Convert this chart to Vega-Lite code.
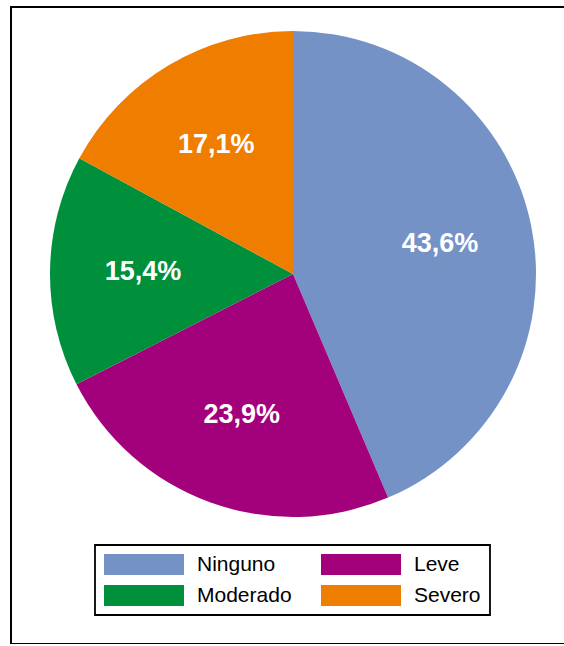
{
  "$schema": "https://vega.github.io/schema/vega-lite/v6.json",
  "width": 564,
  "height": 637,
  "autosize": {"type": "none"},
  "padding": {"left": 11, "top": 7, "right": 0, "bottom": 0},
  "background": "white",
  "view": {"stroke": "black", "strokeWidth": 2},
  "data": {"values": [
    {"grado": "Ninguno", "share": 0.436, "i": 1},
    {"grado": "Leve", "share": 0.239, "i": 2},
    {"grado": "Moderado", "share": 0.154, "i": 3},
    {"grado": "Severo", "share": 0.171, "i": 4}
  ]},
  "encoding": {
    "theta": {"field": "share", "type": "quantitative", "stack": true},
    "order": {"field": "i", "type": "quantitative"}
  },
  "layer": [
    {
      "mark": {"type": "arc", "radius": 243, "yOffset": -51.5},
      "encoding": {
        "color": {
          "field": "grado",
          "type": "nominal",
          "sort": ["Ninguno", "Leve", "Moderado", "Severo"],
          "scale": {"domain": ["Ninguno", "Leve", "Moderado", "Severo"], "range": ["#7492C6", "#A3007C", "#008F3B", "#EF7D00"]},
          "legend": {
            "title": null,
            "orient": "none",
            "legendX": 84,
            "legendY": 538,
            "direction": "horizontal",
            "columns": 2,
            "strokeColor": "black",
            "fillColor": "white",
            "padding": 9,
            "symbolType": "M-1,-1H6.62V1H-1Z",
            "symbolSize": 441,
            "symbolStrokeWidth": 0,
            "symbolOpacity": 1,
            "labelFont": "Liberation Sans",
            "labelFontSize": 21,
            "labelColor": "black",
            "labelOffset": 72,
            "labelLimit": 300,
            "rowPadding": 9,
            "columnPadding": 29,
            "encode": {"legend": {"update": {"strokeWidth": {"value": 1.8}}}}
          }
        }
      }
    },
    {
      "mark": {"type": "text", "radius": 150, "yOffset": -51.5, "font": "Liberation Sans", "fontWeight": "bold", "fontSize": 27, "fill": "white"},
      "encoding": {
        "text": {"field": "share", "type": "quantitative", "format": ".1%"}
      }
    }
  ],
  "config": {
    "locale": {"number": {"decimal": ",", "thousands": ".", "grouping": [3], "currency": ["", " €"]}}
  }
}
